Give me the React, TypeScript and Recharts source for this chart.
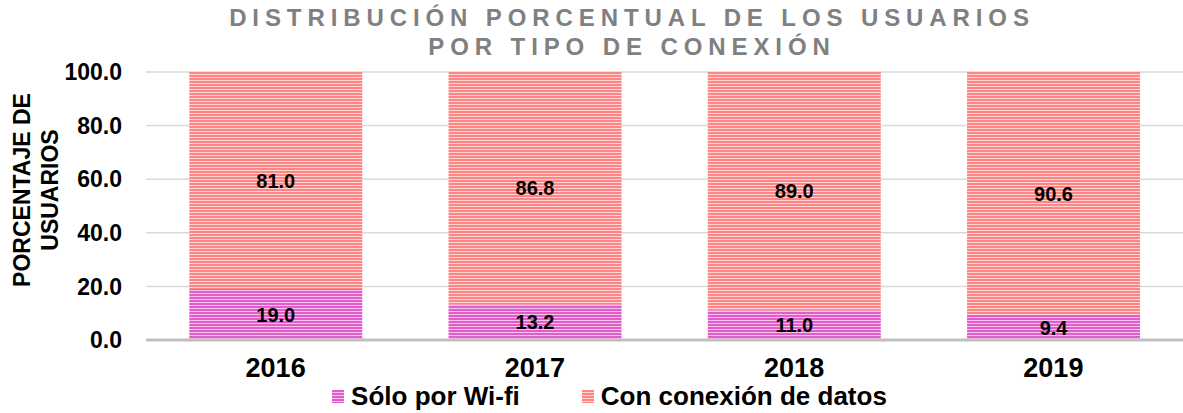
import React from "react";
import {
    BarChart,
    Bar,
    XAxis,
    YAxis,
    CartesianGrid,
    Legend,
    LabelList,
} from "recharts";

const years = ["2016", "2017", "2018", "2019"];
const soloWifi = [19.0, 13.2, 11.0, 9.4];
const conDatos = [81.0, 86.8, 89.0, 90.6];
const yTicks = [0, 20, 40, 60, 80, 100];

const data = years.map((year, i) => ({
    year,
    wifi: soloWifi[i],
    datos: conDatos[i],
}));

const FONT = "'Liberation Sans', Arial, sans-serif";

function Patterns() {
    return (
        <defs>
            <pattern id="pWifi" width="6" height="3" patternUnits="userSpaceOnUse">
                <rect width="6" height="3" fill="#f7c2ec" />
                <rect width="6" height="2" fill="#e35ccb" />
            </pattern>
            <pattern id="pDatos" width="6" height="3" patternUnits="userSpaceOnUse">
                <rect width="6" height="3" fill="#ffd6d6" />
                <rect width="6" height="2" fill="#ff8585" />
            </pattern>
        </defs>
    );
}

function YLabel() {
    return (
        <text
            transform="translate(30, 190) rotate(-90)"
            textAnchor="middle"
            fontFamily={FONT}
            fontWeight="bold"
            fontSize={23}
            fill="#000"
        >
            <tspan x={0} dy={0}>PORCENTAJE DE</tspan>
            <tspan x={0} dy={28}>USUARIOS</tspan>
        </text>
    );
}

function LegendContent() {
    const items = [
        { id: "pWifi", label: "Sólo por Wi-fi" },
        { id: "pDatos", label: "Con conexión de datos" },
    ];
    return (
        <div style={{ position: "relative", height: 30, overflow: "visible" }}>
            <div
                style={{
                    position: "absolute",
                    top: 0,
                    left: 0,
                    width: 1183,
                    display: "flex",
                    justifyContent: "center",
                    gap: 62,
                    paddingLeft: 36,
                    boxSizing: "border-box",
                    fontFamily: FONT,
                    fontWeight: "bold",
                    fontSize: 26,
                    lineHeight: "26px",
                    color: "#000",
                }}
            >
                {items.map((it) => (
                    <div key={it.id} style={{ display: "flex", alignItems: "center", gap: 7 }}>
                        <svg width={12} height={13}>
                            <Patterns />
                            <rect width={12} height={13} fill={`url(#${it.id})`} />
                        </svg>
                        <span>{it.label}</span>
                    </div>
                ))}
            </div>
        </div>
    );
}

export default function App() {
    return (
        <div style={{ position: "absolute", left: 0, top: 0, width: 1183, height: 413, background: "#fff", fontFamily: FONT, overflow: "hidden" }}>
            <div
                style={{
                    position: "absolute",
                    left: 0,
                    top: 3,
                    width: 1183,
                    paddingLeft: 81,
                    boxSizing: "border-box",
                    textAlign: "center",
                    color: "#808080",
                    fontWeight: "bold",
                    fontSize: 24,
                    letterSpacing: 5.9,
                    lineHeight: "29px",
                }}
            >
                DISTRIBUCIÓN PORCENTUAL DE LOS USUARIOS
                <br />
                POR TIPO DE CONEXIÓN
            </div>
            <BarChart
                width={1183}
                height={413}
                data={data}
                margin={{ top: 72, right: 0, left: 0, bottom: 0 }}
                barCategoryGap="16.7%"
            >
                <Patterns />
                <CartesianGrid vertical={false} stroke="#d9d9d9" strokeWidth={1.5} />
                <XAxis
                    dataKey="year"
                    height={43}
                    tickLine={false}
                    tickSize={0}
                    tickMargin={18}
                    axisLine={{ stroke: "#bfbfbf", strokeWidth: 3 }}
                    tick={{ fill: "#000", fontSize: 27, fontWeight: "bold", fontFamily: FONT }}
                />
                <YAxis
                    width={146}
                    domain={[0, 100]}
                    ticks={yTicks}
                    tickFormatter={(v: number) => v.toFixed(1)}
                    axisLine={false}
                    tickLine={false}
                    tickSize={0}
                    tickMargin={24}
                    tick={{ fill: "#000", fontSize: 23, fontWeight: "bold", fontFamily: FONT }}
                    label={<YLabel />}
                />
                <Legend verticalAlign="bottom" height={30} content={<LegendContent />} />
                <Bar dataKey="wifi" stackId="a" fill="url(#pWifi)" isAnimationActive={false}>
                    <LabelList
                        dataKey="wifi"
                        position="center"
                        formatter={(v: any) => Number(v).toFixed(1)}
                        style={{ fill: "#000", fontSize: 20, fontWeight: "bold", fontFamily: FONT }}
                    />
                </Bar>
                <Bar dataKey="datos" stackId="a" fill="url(#pDatos)" isAnimationActive={false}>
                    <LabelList
                        dataKey="datos"
                        position="center"
                        formatter={(v: any) => Number(v).toFixed(1)}
                        style={{ fill: "#000", fontSize: 20, fontWeight: "bold", fontFamily: FONT }}
                    />
                </Bar>
            </BarChart>
        </div>
    );
}
